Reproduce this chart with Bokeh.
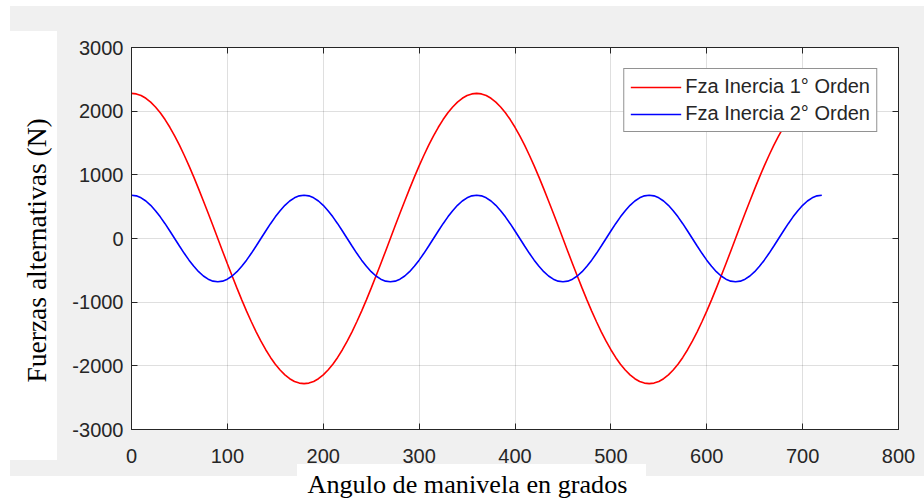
from bokeh.plotting import figure
from bokeh.models import Range1d, LinearAxis, FixedTicker, Legend, LegendItem, Title
from bokeh.embed import file_html
from bokeh.resources import INLINE

# ---------------- data ----------------
angles = list(range(0, 721, 5))  # crank angle, degrees

fza_inercia_1 = [
    2280, 2271, 2245, 2202, 2142, 2066, 1975, 1868, 1747, 1612, 1466, 1308, 1140, 964, 780, 590, 396, 199, 0,
    -199, -396, -590, -780, -964, -1140, -1308, -1466, -1612, -1747, -1868, -1975, -2066, -2142, -2202, -2245, -2271, -2280,
    -2271, -2245, -2202, -2142, -2066, -1975, -1868, -1747, -1612, -1466, -1308, -1140, -964, -780, -590, -396, -199, 0,
    199, 396, 590, 780, 964, 1140, 1308, 1466, 1612, 1747, 1868, 1975, 2066, 2142, 2202, 2245, 2271, 2280,
    2271, 2245, 2202, 2142, 2066, 1975, 1868, 1747, 1612, 1466, 1308, 1140, 964, 780, 590, 396, 199, 0,
    -199, -396, -590, -780, -964, -1140, -1308, -1466, -1612, -1747, -1868, -1975, -2066, -2142, -2202, -2245, -2271, -2280,
    -2271, -2245, -2202, -2142, -2066, -1975, -1868, -1747, -1612, -1466, -1308, -1140, -964, -780, -590, -396, -199, 0,
    199, 396, 590, 780, 964, 1140, 1308, 1466, 1612, 1747, 1868, 1975, 2066, 2142, 2202, 2245, 2271, 2280,
]

fza_inercia_2 = [
    680,
    670, 639, 589, 521, 437, 340, 233, 118, 0, -118, -233, -340, -437, -521, -589, -639, -670, -680,
    -670, -639, -589, -521, -437, -340, -233, -118, 0, 118, 233, 340, 437, 521, 589, 639, 670, 680,
    670, 639, 589, 521, 437, 340, 233, 118, 0, -118, -233, -340, -437, -521, -589, -639, -670, -680,
    -670, -639, -589, -521, -437, -340, -233, -118, 0, 118, 233, 340, 437, 521, 589, 639, 670, 680,
    670, 639, 589, 521, 437, 340, 233, 118, 0, -118, -233, -340, -437, -521, -589, -639, -670, -680,
    -670, -639, -589, -521, -437, -340, -233, -118, 0, 118, 233, 340, 437, 521, 589, 639, 670, 680,
    670, 639, 589, 521, 437, 340, 233, 118, 0, -118, -233, -340, -437, -521, -589, -639, -670, -680,
    -670, -639, -589, -521, -437, -340, -233, -118, 0, 118, 233, 340, 437, 521, 589, 639, 670, 680,
]

x_ticks = [0, 100, 200, 300, 400, 500, 600, 700, 800]
y_ticks = [-3000, -2000, -1000, 0, 1000, 2000, 3000]
y_tick_text = ["-3000", "-2000", "-1000", "0", "1000", "2000", "3000"]
legend_labels = ["Fza Inercia 1\u00b0 Orden", "Fza Inercia 2\u00b0 Orden"]
x_label = "Angulo de manivela en grados"
y_label = "Fuerzas alternativas (N)"

# ---------------- styling ----------------
AX = "#262626"
SANS = "Liberation Sans"
SERIF = "Liberation Serif"

# grey MATLAB-like figure area with two white boxes behind the axis titles
page_bg = ("linear-gradient(#ffffff,#ffffff) 10px 31px / 47px 429px no-repeat, "
           "linear-gradient(#ffffff,#ffffff) 297px 464px / 349px 40px no-repeat, "
           "linear-gradient(#f0f0f0,#f0f0f0) 10px 6px / 914px 470px no-repeat, "
           "#ffffff")

p = figure(width=924, height=504,
           x_range=Range1d(0, 800), y_range=Range1d(-3000, 3000),
           output_backend="svg", toolbar_location=None,
           min_border_left=131, min_border_right=26,
           min_border_top=47, min_border_bottom=75,
           border_fill_color=None, background_fill_color="white",
           outline_line_color=AX, outline_line_width=1,
           styles={"background": page_bg})

def style_axis(ax, ticks, show_labels, standoff):
    ax.ticker = FixedTicker(ticks=ticks)
    ax.axis_line_color = AX
    ax.axis_line_width = 1
    ax.major_tick_line_color = AX
    ax.major_tick_in = 6
    ax.major_tick_out = 0
    ax.minor_tick_line_color = None
    ax.major_label_standoff = standoff
    ax.major_label_text_font = SANS
    ax.major_label_text_font_size = "20px"
    ax.major_label_text_color = AX if show_labels else None

style_axis(p.xaxis[0], x_ticks, True, 19)
style_axis(p.yaxis[0], y_ticks, True, 8)
p.yaxis[0].major_label_overrides = dict(zip(y_ticks, y_tick_text))

top_ax = LinearAxis()
style_axis(top_ax, x_ticks, False, 0)
p.add_layout(top_ax, "above")
right_ax = LinearAxis()
style_axis(right_ax, y_ticks, False, 0)
p.add_layout(right_ax, "right")

p.xgrid.ticker = FixedTicker(ticks=x_ticks)
p.ygrid.ticker = FixedTicker(ticks=y_ticks)
for g in (p.xgrid, p.ygrid):
    g.grid_line_color = AX
    g.grid_line_alpha = 0.15
    g.grid_line_width = 1

r1 = p.line(angles, fza_inercia_1, line_color="#ff0000", line_width=1.6)
r2 = p.line(angles, fza_inercia_2, line_color="#0000ff", line_width=1.6)

legend = Legend(items=[LegendItem(label=legend_labels[0], renderers=[r1]),
                       LegendItem(label=legend_labels[1], renderers=[r2])],
                location="top_right", margin=21, padding=6, spacing=4,
                label_text_font=SANS, label_text_font_size="20px",
                label_text_color=AX, glyph_width=51, glyph_height=22,
                label_height=22, label_standoff=4,
                border_line_color=AX, border_line_width=1,
                background_fill_color="white", background_fill_alpha=1)
p.add_layout(legend)

# axis titles (serif, as in the reference)
p.add_layout(Title(text=x_label, text_font=SERIF, text_font_size="26.2px",
                   text_font_style="normal", text_color="black",
                   align="left", offset=176, standoff=5), "below")
p.add_layout(Title(text=y_label, text_font=SERIF, text_font_size="27.5px",
                   text_font_style="normal", text_color="black",
                   align="left", offset=47, standoff=35), "left")

open("out.html", "w").write(file_html(p, INLINE))
